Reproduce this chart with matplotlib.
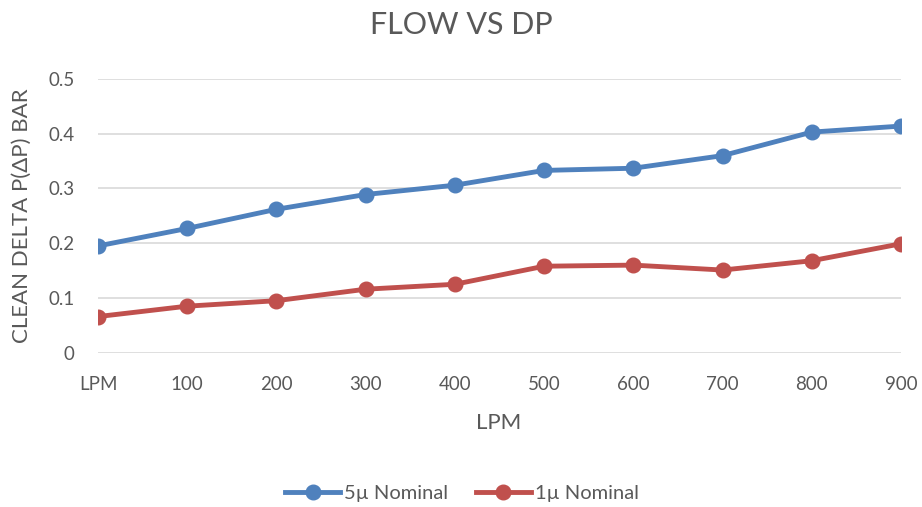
import matplotlib
matplotlib.use("Agg")
import matplotlib.pyplot as plt
from matplotlib.lines import Line2D

categories = ["LPM", "100", "200", "300", "400", "500", "600", "700", "800", "900"]
series_names = ["5µ Nominal", "1µ Nominal"]
nominal_5u = [0.195, 0.227, 0.262, 0.289, 0.306, 0.333, 0.337, 0.360, 0.403, 0.414]
nominal_1u = [0.066, 0.085, 0.095, 0.116, 0.125, 0.158, 0.160, 0.151, 0.168, 0.199]
y_ticks = [0, 0.1, 0.2, 0.3, 0.4, 0.5]
y_tick_labels = ["0", "0.1", "0.2", "0.3", "0.4", "0.5"]

plt.rcParams['font.family'] = ['Lato', 'DejaVu Sans']
text_color = "#595959"
blue = "#4F81BD"
red = "#C0504D"

W, H = 922, 507
fig = plt.figure(figsize=(W / 100, H / 100), dpi=100)
left, right, top, bottom = 98, 901, 79, 352.7
ax = fig.add_axes([left / W, 1 - bottom / H, (right - left) / W, (bottom - top) / H])

x = list(range(len(categories)))
for vals, col, name in [(nominal_5u, blue, series_names[0]), (nominal_1u, red, series_names[1])]:
    ax.plot(x, vals, color=col, lw=3.5, marker='o', markersize=10.5, label=name,
            solid_capstyle='round', solid_joinstyle='round', zorder=3)

ax.set_xlim(0, len(categories) - 1)
ax.set_ylim(0, 0.5)
ax.set_yticks(y_ticks)
ax.set_yticklabels(y_tick_labels)
ax.set_xticks(x)
ax.set_xticklabels(categories)
ax.grid(axis='y', color="#D9D9D9", lw=1.2)
ax.set_axisbelow(True)
for s in ax.spines.values():
    s.set_visible(False)
ax.tick_params(axis='both', length=0, labelsize=13.5, labelcolor=text_color)
ax.tick_params(axis='x', pad=17)
ax.tick_params(axis='y', pad=17)

fig.text(461 / W, 1 - 25 / H, "FLOW VS DP", ha='center', va='center', fontsize=22, color=text_color)
fig.text(499 / W, 1 - 423 / H, "LPM", ha='center', va='center', fontsize=16, color=text_color)
fig.text(22 / W, 1 - 216 / H, "CLEAN DELTA P(ΔP) BAR", ha='center', va='center', rotation=90,
         fontsize=16, color=text_color)

handles = [Line2D([0], [0], color=blue, lw=3.5, marker='o', markersize=10.5),
           Line2D([0], [0], color=red, lw=3.5, marker='o', markersize=10.5)]
fig.legend(handles, series_names, loc='center', bbox_to_anchor=(462 / W, 1 - 493 / H), ncol=2,
           frameon=False, fontsize=14.5, labelcolor=text_color, handlelength=2.7,
           handletextpad=0.2, columnspacing=1.4)

fig.savefig("out.png", dpi=100)
